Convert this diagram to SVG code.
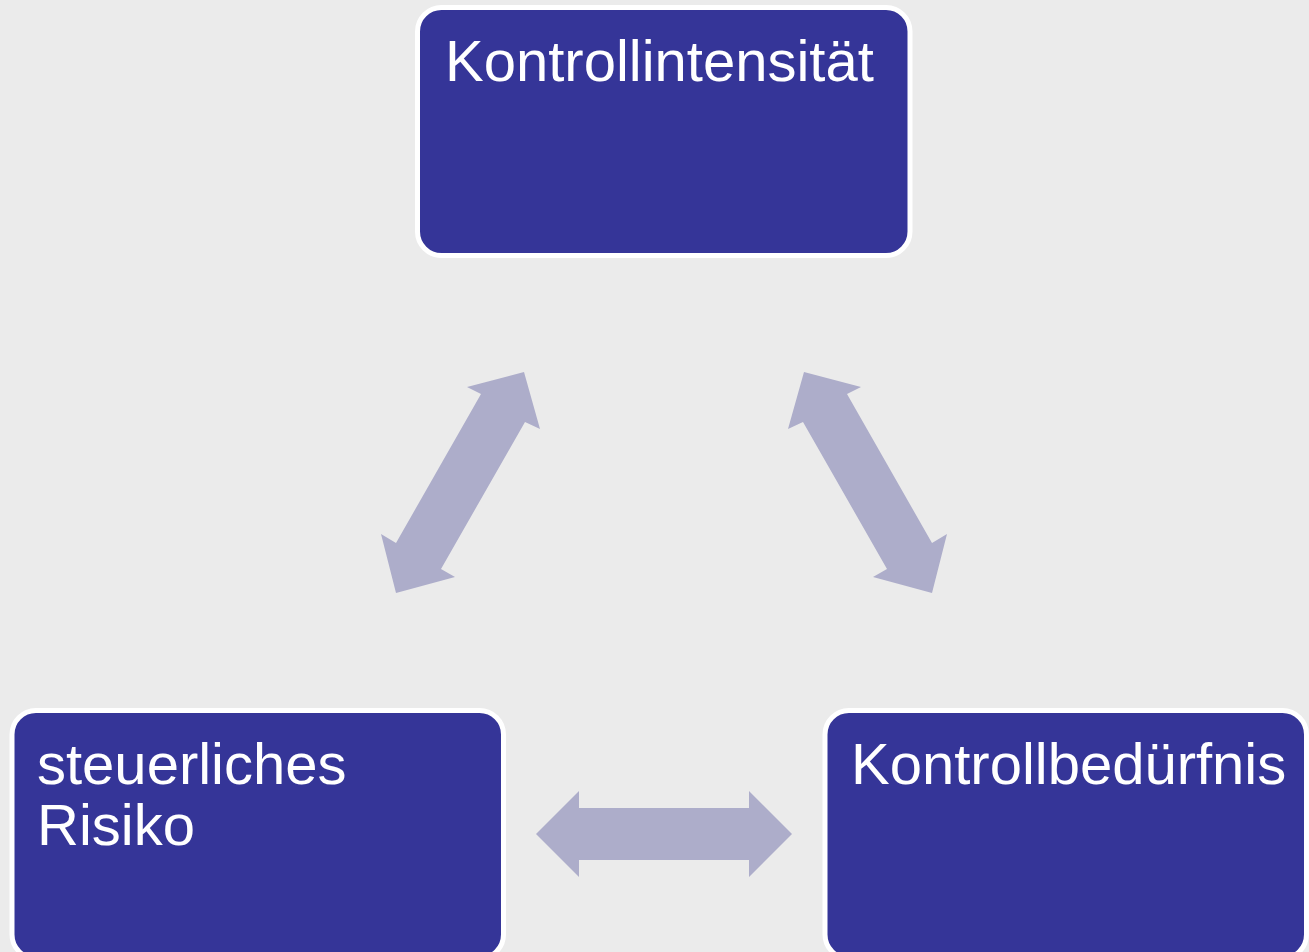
<svg xmlns="http://www.w3.org/2000/svg" width="1309" height="952" viewBox="0 0 1309 952">
<style>
.box{fill:#353598;stroke:#ffffff;stroke-width:5}
.lbl{fill:#ffffff;font-family:"Liberation Sans",Arial,sans-serif;font-size:58px}
.arr{fill:#adadca}
</style>
<rect width="1309" height="952" fill="#ebebeb"/>
<g id="connectors">
<polygon class="arr" points="524,372 540,429 525,422 441,569 455,577 396,593 381,534 396,543 481,394 467,387"/>
<polygon class="arr" points="804,372 788,429 803,422 887,569 873,577 932,593 947,534 932,543 847,394 861,387"/>
<polygon class="arr" points="536,834 579,791 579,808 749,808 749,791 792,834 749,877 749,860 579,860 579,877"/>
</g>
<g id="node-kontrollintensitaet">
<rect class="box" x="417.5" y="7.5" width="492.5" height="248" rx="24"/>
<text class="lbl" x="445" y="81">Kontrollintensität</text>
</g>
<g id="node-steuerliches-risiko">
<rect class="box" x="12" y="710.5" width="491.5" height="248" rx="24"/>
<text class="lbl" x="37" y="784">steuerliches</text>
<text class="lbl" x="37" y="845">Risiko</text>
</g>
<g id="node-kontrollbeduerfnis">
<rect class="box" x="825" y="710.5" width="481.5" height="248" rx="24"/>
<text class="lbl" x="851" y="784">Kontrollbedürfnis</text>
</g>
</svg>
